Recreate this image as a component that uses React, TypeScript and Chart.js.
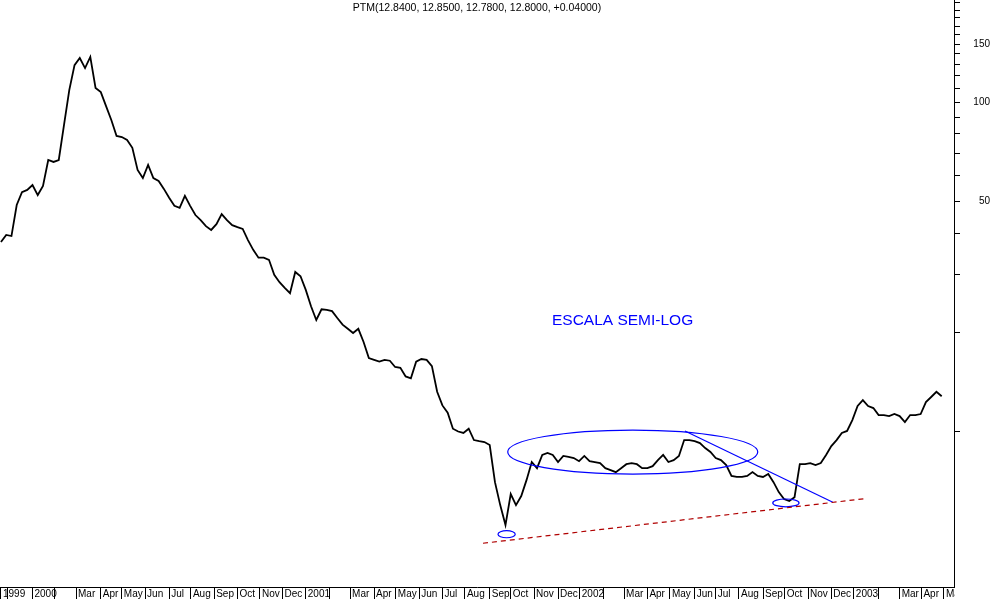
import React, { useEffect, useRef } from 'react';
import { Chart, registerables } from 'chart.js';

Chart.register(...registerables);

// ---------- data ----------
const SERIES_START = '1999-11-22'; // first weekly observation
const weeklyClose = [
  37.6, 39.5, 39.2, 48.7, 53.3, 54.1, 56.0, 52.2, 55.6, 66.7,
  65.8, 66.7, 85.2, 108.7, 129.4, 136.0, 126.8, 137.0, 110.3, 107.2,
  97.2, 88.2, 78.9, 78.3, 76.7, 72.6, 62.2, 58.8, 64.4, 58.8,
  57.6, 54.5, 51.2, 48.4, 47.7, 51.9, 48.4, 45.4, 43.8, 42.0,
  40.9, 42.6, 45.7, 43.8, 42.3, 41.7, 41.2, 38.1, 35.6, 33.7,
  33.7, 33.2, 29.9, 28.4, 27.3, 26.3, 30.5, 29.6, 26.9, 24.0,
  21.8, 23.5, 23.4, 23.2, 22.1, 21.1, 20.5, 19.9, 20.5, 18.7,
  16.7, 16.5, 16.3, 16.5, 16.4, 15.7, 15.6, 14.7, 14.5, 16.3,
  16.6, 16.5, 15.8, 13.2, 12.0, 11.4, 10.2, 10.0, 9.9, 10.2,
  9.42, 9.35, 9.29, 9.10, 7.02, 5.98, 5.2, 6.46, 5.98, 6.37,
  7.12, 8.08, 7.74, 8.49, 8.61, 8.49, 8.08, 8.43, 8.37, 8.31,
  8.13, 8.43, 8.13, 8.08, 8.02, 7.74, 7.64, 7.53, 7.74, 7.96,
  8.02, 7.96, 7.74, 7.74, 7.85, 8.19, 8.49, 8.08, 8.19, 8.43,
  9.42, 9.42, 9.35, 9.22, 8.91, 8.67, 8.31, 8.19, 7.91, 7.33,
  7.28, 7.28, 7.33, 7.53, 7.33, 7.28, 7.43, 7.02, 6.55, 6.24,
  6.15, 6.32, 7.96, 7.96, 8.02, 7.91, 8.02, 8.49, 9.03, 9.42,
  9.90, 10.04, 10.83, 11.95, 12.46, 11.95, 11.78, 11.22, 11.22, 11.14,
  11.30, 11.14, 10.68, 11.22, 11.22, 11.30, 12.29, 12.73, 13.2, 12.80,
];

// x-axis: one tick per month (first is the series start), labels
const monthLabels = [
  '1999', '',
  '2000', '', 'Mar', 'Apr', 'May', 'Jun', 'Jul', 'Aug', 'Sep', 'Oct', 'Nov', 'Dec',
  '2001', '', 'Mar', 'Apr', 'May', 'Jun', 'Jul', 'Aug', 'Sep', 'Oct', 'Nov', 'Dec',
  '2002', '', 'Mar', 'Apr', 'May', 'Jun', 'Jul', 'Aug', 'Sep', 'Oct', 'Nov', 'Dec',
  '2003', '', 'Mar', 'Apr', 'May',
];
const FIRST_MONTH = '1999-12-01';

// y-axis (log) ticks
const yTickValues = [10, 20, 30, 40, 50, 60, 70, 80, 90, 100, 110, 120, 130, 140, 150, 160, 170, 180, 190, 200];
const yLabelValues = [50, 100, 150];

const titleText = 'PTM(12.8400, 12.8500, 12.7800, 12.8000, +0.04000)';
const noteText = 'ESCALA SEMI-LOG';
const noteAnchor = { date: '2002-02-27', price: 21.0 };

// annotations (dates / prices)
const ellipses = [
  { from: '2001-09-27', to: '2002-08-26', top: 10.1, bottom: 7.43 },
  { from: '2001-09-14', to: '2001-10-07', top: 5.0, bottom: 4.76 },
  { from: '2002-09-15', to: '2002-10-20', top: 6.24, bottom: 5.91 },
];
const trendLine = { fromDate: '2002-05-21', fromPrice: 10.04, toDate: '2002-12-04', toPrice: 6.1 };
const supportLine = { fromDate: '2001-08-25', fromPrice: 4.58, toDate: '2003-01-14', toPrice: 6.25 };

// axis range (days since origin, prices)
const ORIGIN = Date.UTC(1999, 10, 21);
const X_MIN = -0.27;
const X_MAX = 1270.4;
const Y_MIN = 3.374;
const Y_MAX = 204;

// ---------- helpers ----------
const FONT = "'Liberation Sans', Arial, sans-serif";
function dayNum(s: string): number {
  const [y, m, d] = s.split('-').map(Number);
  return (Date.UTC(y, m - 1, d) - ORIGIN) / 86400000;
}
function firstWeekday(y: number, m: number): number {
  let t = Date.UTC(y, m, 1);
  const wd = new Date(t).getUTCDay();
  if (wd === 6) t += 2 * 86400000;
  else if (wd === 0) t += 86400000;
  return (t - ORIGIN) / 86400000;
}

const startDay = dayNum(SERIES_START);
const points = weeklyClose.map((v, i) => ({ x: startDay + 7 * i, y: v }));

const tickDays: number[] = (() => {
  const res = [startDay];
  const [fy, fm] = FIRST_MONTH.split('-').map(Number);
  for (let k = 1; k < monthLabels.length; k++) {
    const mIdx = fm - 1 + (k - 1);
    res.push(firstWeekday(fy + Math.floor(mIdx / 12), mIdx % 12));
  }
  return res;
})();

const overlayPlugin = {
  id: 'overlay',
  afterDatasetsDraw(chart: any) {
    const { ctx, scales } = chart;
    const sx = scales.x;
    const sy = scales.y;
    const px = (d: string) => sx.getPixelForValue(dayNum(d));
    const py = (v: number) => sy.getPixelForValue(v);
    ctx.save();
    ctx.strokeStyle = '#0000ff';
    ctx.lineWidth = 1.2;
    for (const e of ellipses) {
      const x1 = px(e.from), x2 = px(e.to), y1 = py(e.top), y2 = py(e.bottom);
      ctx.beginPath();
      ctx.ellipse((x1 + x2) / 2, (y1 + y2) / 2, Math.abs(x2 - x1) / 2, Math.abs(y2 - y1) / 2, 0, 0, Math.PI * 2);
      ctx.stroke();
    }
    ctx.beginPath();
    ctx.moveTo(px(trendLine.fromDate), py(trendLine.fromPrice));
    ctx.lineTo(px(trendLine.toDate), py(trendLine.toPrice));
    ctx.stroke();

    ctx.strokeStyle = '#b00000';
    ctx.lineWidth = 1.2;
    ctx.setLineDash([5, 4]);
    ctx.beginPath();
    ctx.moveTo(px(supportLine.fromDate), py(supportLine.fromPrice));
    ctx.lineTo(px(supportLine.toDate), py(supportLine.toPrice));
    ctx.stroke();
    ctx.setLineDash([]);

    ctx.fillStyle = '#0000ff';
    ctx.font = `15.5px ${FONT}`;
    ctx.textAlign = 'center';
    ctx.textBaseline = 'alphabetic';
    ctx.fillText(noteText, px(noteAnchor.date), py(noteAnchor.price));
    ctx.restore();
  },
  afterDraw(chart: any) {
    const { ctx, chartArea } = chart;
    ctx.save();
    // clip month label overflow beyond the price axis
    ctx.fillStyle = '#ffffff';
    ctx.fillRect(chartArea.right + 1, chartArea.bottom + 1, chart.width - chartArea.right, chart.height - chartArea.bottom);
    ctx.fillStyle = '#000000';
    ctx.font = `10.5px ${FONT}`;
    ctx.textAlign = 'center';
    ctx.textBaseline = 'alphabetic';
    ctx.fillText(titleText, (chartArea.left + chartArea.right) / 2, 11);
    ctx.restore();
  },
};

export default function App() {
  const ref = useRef<HTMLCanvasElement | null>(null);
  useEffect(() => {
    document.body.style.margin = '0';
    document.body.style.overflow = 'hidden';
    const canvas = ref.current;
    if (!canvas) return;
    const chart = new Chart(canvas, {
      type: 'line',
      data: {
        datasets: [
          {
            data: points,
            borderColor: '#000000',
            borderWidth: 1.8,
            pointRadius: 0,
            tension: 0,
            fill: false,
          },
        ],
      },
      options: {
        animation: false,
        responsive: false,
        maintainAspectRatio: false,
        layout: { padding: { left: 0, top: 0, bottom: 0, right: 4 } },
        plugins: { legend: { display: false }, tooltip: { enabled: false }, title: { display: false } },
        scales: {
          x: {
            type: 'linear',
            position: 'bottom',
            min: X_MIN,
            max: X_MAX,
            afterBuildTicks: (s: any) => {
              s.ticks = tickDays.map((v) => ({ value: v }));
            },
            afterFit: (s: any) => {
              s.height = 12;
              s.paddingLeft = 0;
              s.paddingRight = 0;
              s.paddingTop = 0;
              s.paddingBottom = 0;
            },
            ticks: {
              autoSkip: false,
              maxRotation: 0,
              minRotation: 0,
              align: 'start',
              labelOffset: 2,
              padding: -11,
              color: '#000000',
              font: { family: FONT, size: 10 },
              callback: (_v: any, i: number) => monthLabels[i] ?? '',
            },
            grid: { drawOnChartArea: false, drawTicks: true, tickLength: 12, color: '#000000', tickColor: '#000000' },
            border: { display: true, color: '#000000', width: 1 },
          },
          y: {
            type: 'logarithmic',
            position: 'right',
            min: Y_MIN,
            max: Y_MAX,
            afterBuildTicks: (s: any) => {
              s.ticks = yTickValues.map((v) => ({ value: v }));
            },
            afterFit: (s: any) => {
              s.width = 36;
              s.paddingLeft = 0;
              s.paddingRight = 0;
              s.paddingTop = 0;
              s.paddingBottom = 0;
            },
            ticks: {
              autoSkip: false,
              crossAlign: 'far',
              padding: 9,
              color: '#000000',
              font: { family: FONT, size: 10 },
              callback: (v: any) => (yLabelValues.includes(Number(v)) ? String(v) : ''),
            },
            grid: { drawOnChartArea: false, drawTicks: true, tickLength: 6, color: '#000000', tickColor: '#000000' },
            border: { display: true, color: '#000000', width: 1 },
          },
        },
      },
      plugins: [overlayPlugin],
    } as any);
    return () => chart.destroy();
  }, []);
  return (
    <div style={{ width: 994, height: 599, background: '#ffffff' }}>
      <canvas ref={ref} width={994} height={599} style={{ display: 'block', width: 994, height: 599 }} />
    </div>
  );
}
